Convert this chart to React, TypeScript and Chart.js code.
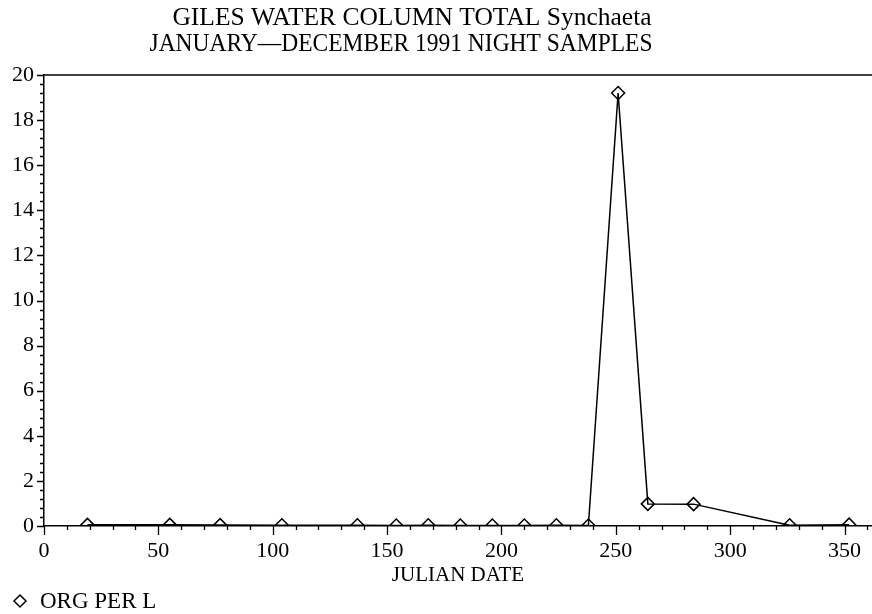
import React, { useEffect, useRef } from "react";
import { Chart, registerables } from "chart.js";

Chart.register(...registerables);

const titleLines = ["GILES WATER COLUMN TOTAL Synchaeta", "JANUARY\u2014DECEMBER 1991 NIGHT SAMPLES"];
const xAxisTitle = "JULIAN DATE";
const seriesLabel = "ORG PER L";
const julianDays = [19, 55, 77, 104, 137, 154, 168, 182, 196, 210, 224, 238, 251, 264, 284, 326, 352];
const orgPerL = [0.05, 0.05, 0.04, 0.03, 0.03, 0.02, 0.03, 0.02, 0.02, 0.02, 0.03, 0.02, 19.2, 0.98, 0.97, 0.03, 0.06];
const xMin = 0;
const xMax = 362;
const xMajorStep = 50;
const xMinorStep = 10;
const yMin = 0;
const yMax = 20;
const yMajorStep = 2;
const yMinorStep = 0.4;

const FONT = "'Liberation Serif', 'Times New Roman', serif";

const decorPlugin = {
  id: "decor",
  afterDraw(chart: any) {
    const ctx = chart.ctx;
    const area = chart.chartArea;
    const xs = chart.scales.x;
    const ys = chart.scales.y;
    ctx.save();
    // title
    ctx.fillStyle = "#000";
    ctx.textBaseline = "middle";
    ctx.textAlign = "center";
    ctx.font = "25.5px " + FONT;
    ctx.fillText(titleLines[0], 412, 18, 480);
    ctx.fillText(titleLines[1], 401, 44, 503);
    ctx.strokeStyle = "#000";
    ctx.lineWidth = 1.3;
    // top frame line
    ctx.beginPath();
    ctx.moveTo(area.left, area.top);
    ctx.lineTo(area.right, area.top);
    ctx.stroke();
    // x ticks
    ctx.beginPath();
    for (let v = xMin; v <= xMax + 1e-9; v += xMinorStep) {
      const px = Math.round(xs.getPixelForValue(v)) + 0.5;
      const major = Math.abs(v % xMajorStep) < 1e-9;
      ctx.moveTo(px, area.bottom);
      ctx.lineTo(px, area.bottom + (major ? 9 : 4));
    }
    // y ticks
    const n = Math.round((yMax - yMin) / yMinorStep);
    for (let i = 0; i <= n; i++) {
      const v = yMin + i * yMinorStep;
      const py = Math.round(ys.getPixelForValue(v)) + 0.5;
      const major = Math.abs(v / yMajorStep - Math.round(v / yMajorStep)) < 1e-6;
      ctx.moveTo(area.left, py);
      ctx.lineTo(area.left - (major ? 7 : 4), py);
    }
    ctx.stroke();
    // legend
    const lx = 20;
    const ly = 601;
    const r = 6;
    ctx.lineWidth = 1.5;
    ctx.beginPath();
    ctx.moveTo(lx, ly - r);
    ctx.lineTo(lx + r, ly);
    ctx.lineTo(lx, ly + r);
    ctx.lineTo(lx - r, ly);
    ctx.closePath();
    ctx.stroke();
    ctx.font = "23px " + FONT;
    ctx.textAlign = "left";
    ctx.fillText(seriesLabel, 40, ly + 1, 117);
    ctx.restore();
  },
};

export default function App() {
  const ref = useRef<HTMLCanvasElement>(null);
  useEffect(() => {
    if (!ref.current) return;
    const chart = new Chart(ref.current, {
      type: "scatter",
      data: {
        datasets: [
          {
            label: seriesLabel,
            data: julianDays.map((d, i) => ({ x: d, y: orgPerL[i] })),
            showLine: true,
            borderColor: "#000",
            borderWidth: 1.5,
            pointStyle: "rectRot",
            pointRadius: 6.5,
            pointBorderWidth: 1.5,
            pointBorderColor: "#000",
            pointBackgroundColor: "rgba(255,255,255,0)",
            clip: { left: false, top: false, right: false, bottom: 0 } as any,
          },
        ],
      },
      options: {
        responsive: false,
        animation: false,
        layout: { autoPadding: false, padding: { left: 0, right: 0, top: 75, bottom: 24 } },
        plugins: {
          legend: { display: false },
          tooltip: { enabled: false },
          title: { display: false },
        },
        scales: {
          x: {
            type: "linear",
            min: xMin,
            max: xMax,
            afterFit: (s: any) => {
              s.height = 64;
            },
            afterBuildTicks: (s: any) => {
              const t = [];
              for (let v = xMin; v <= xMax; v += xMajorStep) t.push({ value: v });
              s.ticks = t;
            },
            grid: { display: false, drawTicks: true, tickLength: 12 },
            border: { display: true, color: "#000", width: 1.5 },
            ticks: {
              color: "#000",
              font: { family: FONT, size: 22 },
              padding: 0,
              maxRotation: 0,
              autoSkip: false,
            },
            title: {
              display: true,
              text: xAxisTitle,
              color: "#000",
              font: { family: FONT, size: 21 },
              padding: { top: 0, bottom: 2 },
            },
          },
          y: {
            type: "linear",
            min: yMin,
            max: yMax,
            afterFit: (s: any) => {
              s.width = 44;
            },
            grid: { display: false, drawTicks: true, tickLength: 10 },
            border: { display: true, color: "#000", width: 1.5 },
            ticks: {
              color: "#000",
              stepSize: yMajorStep,
              font: { family: FONT, size: 22 },
              padding: 0,
            },
          },
        },
      },
      plugins: [decorPlugin],
    });
    return () => chart.destroy();
  }, []);
  return (
    <div style={{ position: "fixed", left: 0, top: 0, width: 872, height: 614, background: "#fff" }}>
      <canvas ref={ref} width={872} height={614} />
    </div>
  );
}
